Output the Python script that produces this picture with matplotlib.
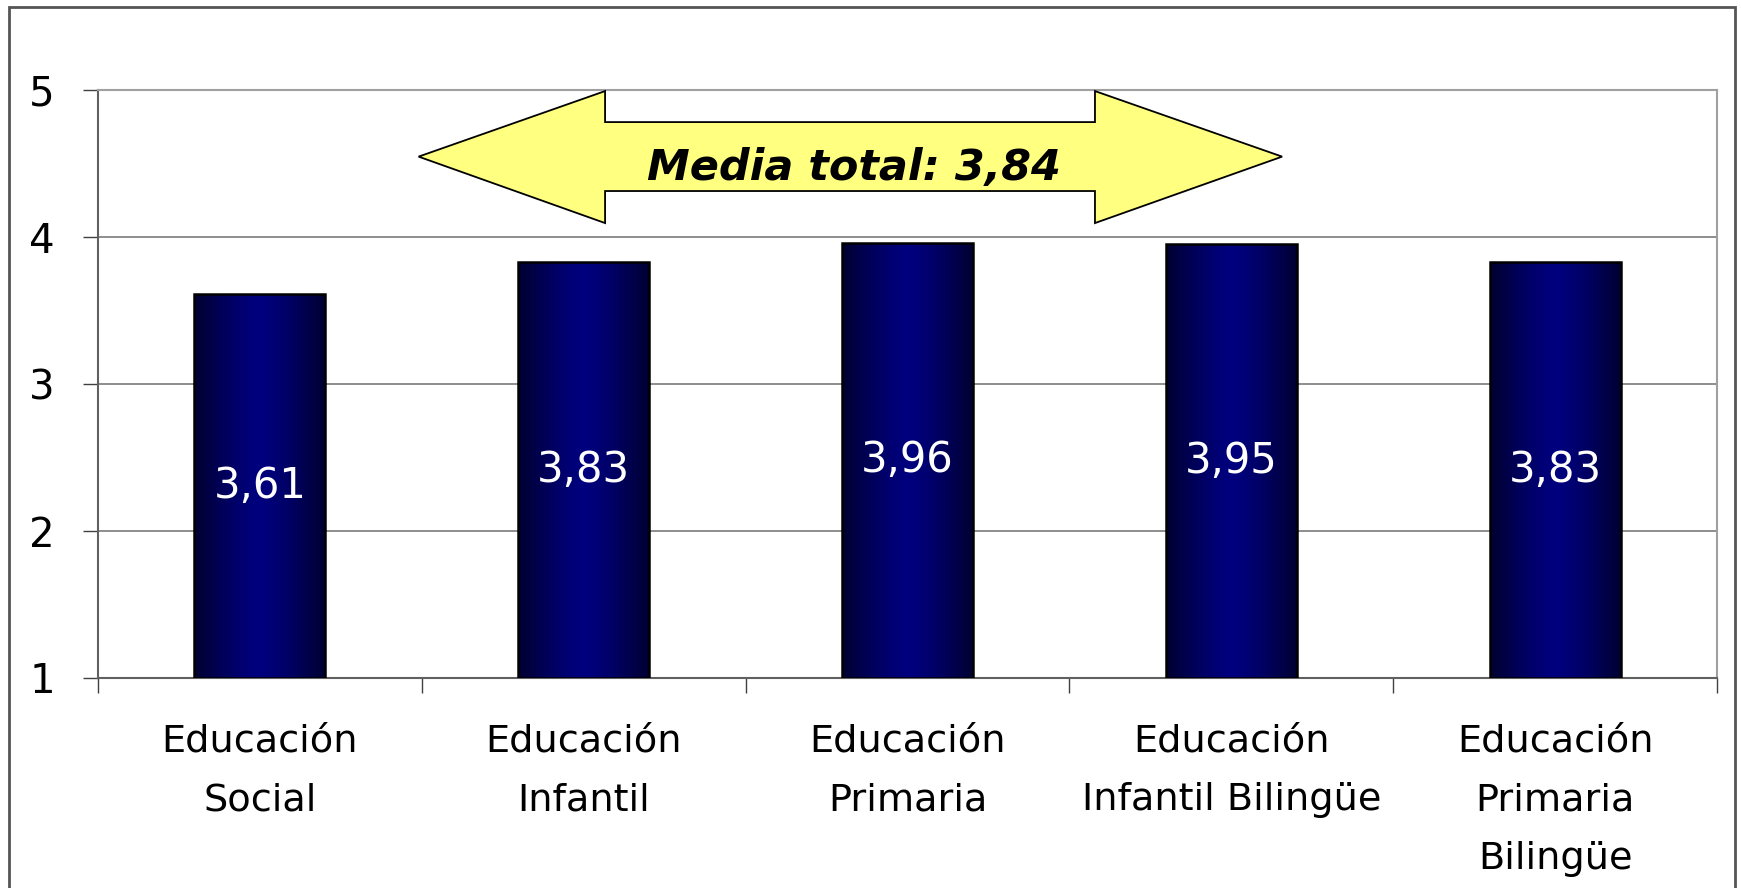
import numpy as np
import matplotlib
matplotlib.use("Agg")
import matplotlib.pyplot as plt
from matplotlib.patches import Polygon, Rectangle

categories = ["Educación\nSocial", "Educación\nInfantil", "Educación\nPrimaria",
              "Educación\nInfantil Bilingüe", "Educación\nPrimaria\nBilingüe"]
values = [3.61, 3.83, 3.96, 3.95, 3.83]
value_labels = ["3,61", "3,83", "3,96", "3,95", "3,83"]
mean_label = "Media total: 3,84"
yticks = [1, 2, 3, 4, 5]

fig = plt.figure(figsize=(17.41, 8.88), dpi=100)
ax = fig.add_axes([0.0563, 0.2365, 0.9299, 0.6621])

x = np.arange(len(values))
bars = ax.bar(x, np.array(values) - 1, bottom=1, width=0.405,
              color="#000070", edgecolor="black", linewidth=1.8, zorder=3)

# horizontal gradient: dark edges, navy centre
grad = np.linspace(-1, 1, 256)
grad = 1 - np.abs(grad) ** 1.3
grad = np.vstack([grad, grad])
cmap = matplotlib.colors.LinearSegmentedColormap.from_list("nv", ["#000030", "#00007f"])
for b in bars:
    im = ax.imshow(grad, cmap=cmap, aspect="auto", zorder=3.5,
                   extent=[b.get_x(), b.get_x() + b.get_width(), b.get_y(), b.get_y() + b.get_height()])
    im.set_clip_path(b)
    b.set_facecolor("none")
    b.set_zorder(4)

for xi, v, lab in zip(x, values, value_labels):
    ax.text(xi, (1 + v) / 2, lab, color="white", fontsize=30, ha="center", va="center", zorder=5)

ax.set_xlim(-0.5, 4.5)
ax.set_ylim(1, 5)
ax.set_yticks(yticks)
ax.set_yticklabels([str(t) for t in yticks], fontsize=29)
ax.tick_params(axis="y", length=11, width=1, color="#404040", pad=20)
ax.set_xticks(x)
ax.set_xticklabels(categories, fontsize=27.5, linespacing=1.8)
ax.set_xticks(np.arange(-0.5, 5, 1), minor=True)
ax.tick_params(axis="x", which="major", length=0, pad=33)
ax.tick_params(axis="x", which="minor", length=11, width=1, color="#404040")

ax.yaxis.grid(True, color="#7a7a7a", linewidth=1.2, zorder=0)
ax.set_axisbelow(True)
for s in ["top", "right"]:
    ax.spines[s].set_color("#a0a0a0")
    ax.spines[s].set_linewidth(1.5)
for s in ["left", "bottom"]:
    ax.spines[s].set_color("#606060")
    ax.spines[s].set_linewidth(1.5)

# double arrow with the overall mean
tip_l, base_l, base_r, tip_r = 0.49, 1.066, 2.579, 3.157
y_mid, head_top, head_bot, shaft_top, shaft_bot = 4.547, 4.993, 4.095, 4.782, 4.313
arrow = Polygon([(tip_l, y_mid), (base_l, head_top), (base_l, shaft_top), (base_r, shaft_top),
                 (base_r, head_top), (tip_r, y_mid), (base_r, head_bot), (base_r, shaft_bot),
                 (base_l, shaft_bot), (base_l, head_bot)], closed=True,
                facecolor="#ffff80", edgecolor="black", linewidth=1.3, zorder=6, clip_on=False)
ax.add_patch(arrow)
ax.text((tip_l + tip_r) / 2 + 0.01, 4.47, mean_label, fontsize=31, fontweight="heavy",
        fontstyle="italic", ha="center", va="center", zorder=7)

# outer frame
fig.patches.append(Rectangle((0.005, -0.01), 0.9916, 1.002, transform=fig.transFigure,
                             fill=False, edgecolor="#555555", linewidth=2))

fig.savefig("out.png", dpi=100)
